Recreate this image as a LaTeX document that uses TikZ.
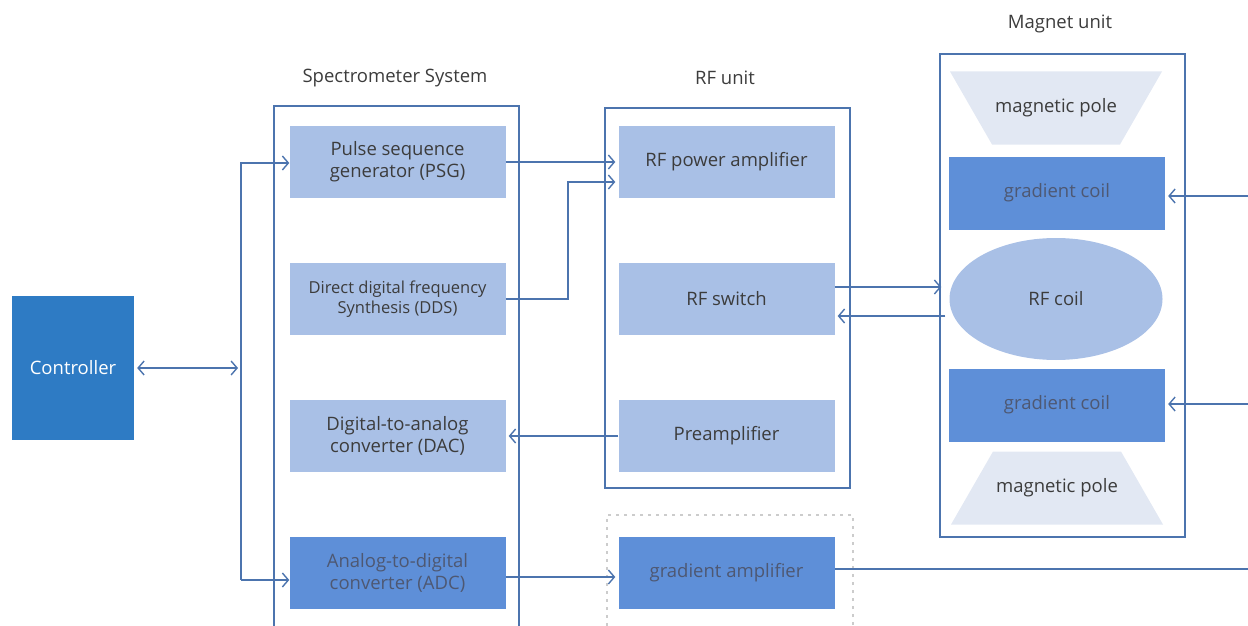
\documentclass[tikz,border=0pt]{standalone}
\usepackage{fontspec}
\setmainfont{Open Sans}
\usetikzlibrary{
    arrows.meta,
    shapes.geometric
}
\definecolor{linecol}{HTML}{4C74AE}
\definecolor{lightbox}{HTML}{A9C0E6}
\definecolor{darkbox}{HTML}{5E8FD8}
\definecolor{ctrlblue}{HTML}{2E7BC4}
\definecolor{polecol}{HTML}{E2E8F3}
\definecolor{txtcol}{HTML}{3C3C3C}
\definecolor{dimtxt}{HTML}{4E5872}

\begin{document}
\begin{tikzpicture}[
        x=1pt,
        y=-1pt,
        >={Straight Barb[length=6pt,width=14pt]},
        every node/.style={
            font=\fontsize{18.5}{22}\selectfont,
            text=txtcol,
            align=center
        },
        unit/.style={
            draw=linecol,
            line width=2pt,
            rectangle,
            minimum width=245pt
        },
        lightblock/.style={
            fill=lightbox,
            minimum width=216pt,
            minimum height=72pt,
            inner sep=0pt
        },
        darkblock/.style={
            lightblock,
            fill=darkbox,
            text=dimtxt
        },
        poleup/.style={
            minimum width=212pt,
            minimum height=73pt,
            inner sep=0pt,
            path picture={
                \fill[polecol] (path picture bounding box.north west)
                    -- (path picture bounding box.north east)
                    -- ([xshift=-42pt]path picture bounding box.south east)
                    -- ([xshift=42pt]path picture bounding box.south west) -- cycle;
            }
        },
        poledown/.style={
            minimum width=212pt,
            minimum height=73pt,
            inner sep=0pt,
            path picture={
                \fill[polecol] ([xshift=42pt]path picture bounding box.north west)
                    -- ([xshift=-42pt]path picture bounding box.north east)
                    -- (path picture bounding box.south east)
                    -- (path picture bounding box.south west) -- cycle;
            }
        },
        title/.style={
            font=\fontsize{18.5}{20}\selectfont
        },
        conn/.style={
            draw=linecol,
            line width=1.4pt
        }
    ]

    \useasboundingbox (0,0) rectangle (1248,626);
    \clip (0,0) rectangle (1248,626);

    % groups
    \node[unit, minimum height=560pt] (spec) at (396.5,386) {};
    \node[unit, minimum height=380pt] (rfgroup) at (727.5,298) {};
    \node[draw=gray!40, line width=1.2pt, dash pattern=on 3pt off 5pt,
          minimum width=246pt, minimum height=160pt] (gradgroup) at (730,595) {};
    \node[unit, minimum height=483pt] (maggroup) at (1062.5,295.5) {};

    \node[title] (spectitle) at (395,78) {Spectrometer System};
    \node[title] (rftitle) at (725,78) {RF unit};
    \node[title] (magtitle) at (1060,24) {Magnet unit};

    % controller
    \node[fill=ctrlblue, text=white, minimum width=122pt, minimum height=144pt,
          inner sep=0pt] (ctrl) at (73,368) {Controller};

    % spectrometer
    \node[lightblock] (psg) at (397.5,162) {Pulse sequence\\generator (PSG)};
    \node[lightblock, font=\fontsize{16.5}{20}\selectfont] (dds) at (397.5,299)
        {Direct digital frequency\\Synthesis (DDS)};
    \node[lightblock] (dac) at (397.5,436) {Digital-to-analog\\converter (DAC)};
    \node[darkblock] (adc) at (397.5,573) {Analog-to-digital\\converter (ADC)};

    % RF unit
    \node[lightblock] (rfamp) at (726.5,162) {RF power amplifier};
    \node[lightblock] (rfsw) at (726.5,299) {RF switch};
    \node[lightblock] (preamp) at (726.5,436) {Preamplifier};
    \node[darkblock] (gradamp) at (726.5,573) {gradient amplifier};

    % magnet unit
    \node[poleup] (poletop) at (1056,108) {magnetic pole};
    \node[darkblock, minimum height=73pt] (gcoiltop) at (1057,193) {gradient coil};
    \node[ellipse, fill=lightbox, minimum width=213pt, minimum height=122pt,
          inner sep=0pt] (rfcoil) at (1056,299) {RF coil};
    \node[darkblock, minimum height=73pt] (gcoilbot) at (1057,405) {gradient coil};
    \node[poledown] (polebot) at (1057,488) {magnetic pole};

    % bus
    \coordinate (bus) at (241,368);
    \coordinate (bustop) at (241,163);
    \coordinate (busbot) at (241,580);
    \coordinate (ddsbend) at (568,182);
    \coordinate (gradout) at (1250,569);
    \coordinate (coilin1) at (1250,196);
    \coordinate (coilin2) at (1250,404);

    \draw[conn, <->] ([xshift=3pt]ctrl.east) -- ([xshift=-3pt]bus);
    \draw[conn, ->] (busbot) -- (bustop) -- (bustop -| psg.west);
    \draw[conn, ->] (busbot) -- (busbot -| adc.west);

    \draw[conn, ->] (psg.east) -- ([xshift=-3pt]rfamp.west);
    \draw[conn, ->] (dds.east) -| (ddsbend) -- ([xshift=-3pt]ddsbend -| rfamp.west);
    \draw[conn, ->] (preamp.west) -- ([xshift=3pt]dac.east);
    \draw[conn, ->] ([yshift=-4pt]adc.east) -- ([yshift=-4pt, xshift=-3pt]gradamp.west);
    \draw[conn] (gradamp.east |- gradout) -- (gradout);

    \draw[conn, ->] ([yshift=12pt]rfsw.east) -- ([yshift=12pt, xshift=-8pt]rfcoil.west);
    \draw[conn, ->] ([yshift=-17pt, xshift=-4pt]rfcoil.west) -- ([yshift=-17pt, xshift=3pt]rfsw.east);

    \draw[conn, ->] (coilin1) -- ([xshift=3pt]coilin1 -| gcoiltop.east);
    \draw[conn, ->] (coilin2) -- ([xshift=3pt]coilin2 -| gcoilbot.east);

\end{tikzpicture}
\end{document}
